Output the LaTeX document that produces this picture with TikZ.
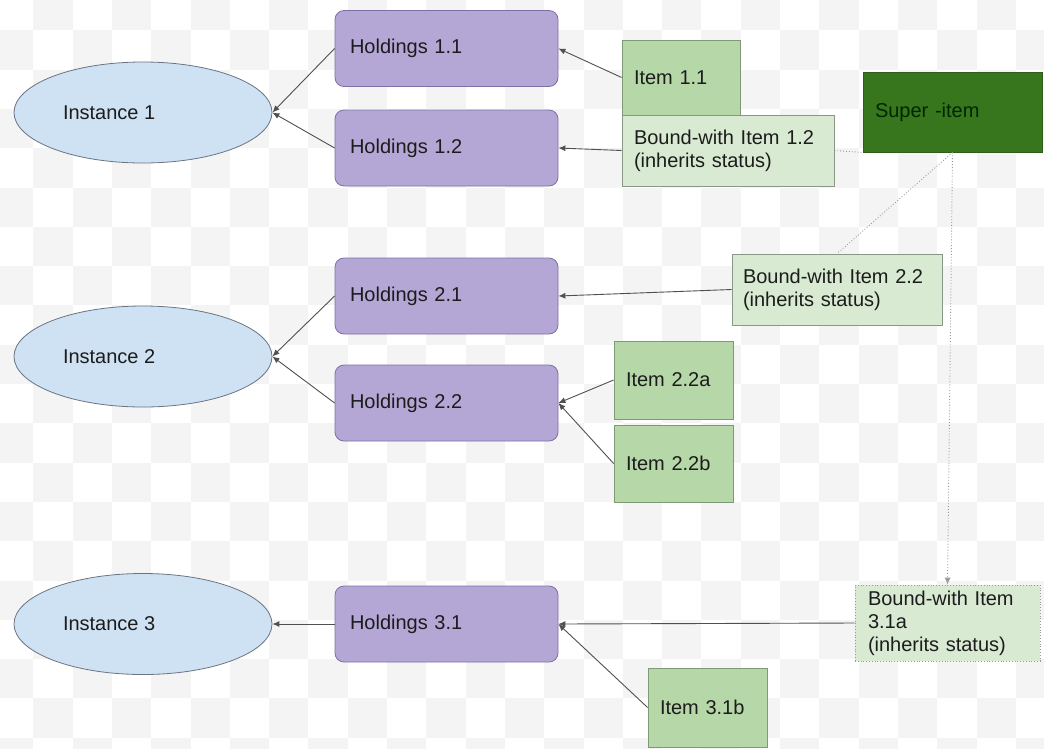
\documentclass[tikz,border=0pt]{standalone}
\usepackage{fontspec}
\setmainfont{Liberation Sans}
\usetikzlibrary{shapes.geometric,arrows.meta}
\definecolor{instfill}{HTML}{CFE2F3}
\definecolor{instdraw}{HTML}{6A7583}
\definecolor{holdfill}{HTML}{B4A7D6}
\definecolor{holddraw}{HTML}{7E6FA6}
\definecolor{itemfill}{HTML}{B6D7A8}
\definecolor{itemdraw}{HTML}{7F9977}
\definecolor{bwfill}{HTML}{D9EAD3}
\definecolor{bwdraw}{HTML}{8A9686}
\definecolor{superfill}{HTML}{38761D}
\definecolor{superdraw}{HTML}{2D5F18}
\definecolor{txt}{HTML}{1C1C1C}
\definecolor{linec}{HTML}{505050}
\definecolor{dotc}{HTML}{9A9A9A}
\definecolor{checker}{HTML}{F4F4F4}
\tikzset{
  every node/.style={font=\fontsize{20}{23}\selectfont, text=txt},
  inst/.style={ellipse, draw=instdraw, fill=instfill, line width=0.8pt,
    minimum width=258pt, minimum height=101pt, inner sep=0pt},
  hold/.style={rectangle, rounded corners=9pt, draw=holddraw, fill=holdfill, line width=0.8pt,
    text width=193pt, inner xsep=15pt, inner ysep=0pt, minimum height=76pt, align=left},
  itembox/.style={rectangle, draw=itemdraw, fill=itemfill, line width=0.8pt,
    inner xsep=12pt, inner ysep=0pt, align=left},
  bwbox/.style={rectangle, draw=bwdraw, fill=bwfill, line width=0.8pt,
    inner xsep=12pt, inner ysep=0pt, align=left},
  superbox/.style={rectangle, draw=superdraw, fill=superfill, line width=0.8pt,
    inner xsep=12pt, inner ysep=0pt, align=left, text=black!85!green},
  arr/.style={draw=linec, line width=0.9pt, -{Latex[length=7pt,width=6pt]}},
  dotline/.style={draw=dotc, line width=0.9pt, dotted},
}
\begin{document}
\begin{tikzpicture}[x=1pt,y=-1pt]
\useasboundingbox (0,0) rectangle (1044,748);
% transparency checkerboard background
\begin{scope}
\clip (0,0) rectangle (1044,748);
\fill[white] (0,0) rectangle (1044,748);
\foreach \i in {0,...,27}{
  \foreach \j in {0,...,20}{
    \pgfmathtruncatemacro\myparity{mod(\i+\j,2)}
    \ifnum\myparity=1
      \fill[checker] ({-6+39.3*\i},{-9+39.3*\j}) rectangle ++(39.3,39.3);
    \fi
  }
}
\end{scope}

% instances
\node[inst] (i1) at (143,112.5) {\makebox[160pt][l]{Instance 1}};
\node[inst] (i2) at (143,356.5) {\makebox[160pt][l]{Instance 2}};
\node[inst] (i3) at (143,624) {\makebox[160pt][l]{Instance 3}};

% holdings
\node[hold] (h11) at (446.5,48.5) {Holdings 1.1};
\node[hold] (h12) at (446.5,148) {Holdings 1.2};
\node[hold] (h21) at (446.5,296) {Holdings 2.1};
\node[hold] (h22) at (446.5,403) {Holdings 2.2};
\node[hold] (h31) at (446.5,624) {Holdings 3.1};

% items
\node[itembox, text width=94pt, minimum height=75pt] (it11) at (681,77.5) {Item 1.1};
\node[bwbox, text width=188pt, minimum height=71pt] (bw12) at (728,150.5) {Bound-with Item 1.2\\(inherits status)};
\node[superbox, text width=155pt, minimum height=80pt] (super) at (952.5,112) {Super -item};
\node[bwbox, inner xsep=11pt, text width=188pt, minimum height=71pt] (bw22) at (837,289.5) {Bound-with Item 2.2\\(inherits status)};
\node[itembox, text width=95pt, minimum height=78pt] (it22a) at (673.5,380) {Item 2.2a};
\node[itembox, text width=95pt, minimum height=77pt] (it22b) at (673.5,463.5) {Item 2.2b};
\node[bwbox, draw=dotc, dotted, inner xsep=13pt, text width=159pt, minimum height=76pt] (bw31a) at (947.5,623) {Bound-with Item\\3.1a\\(inherits status)};
\node[itembox, text width=95pt, minimum height=79pt] (it31b) at (707.5,707.5) {Item 3.1b};

% holdings -> instances
\draw[arr] (h11.west) -- (i1.east);
\draw[arr] (h12.west) -- (i1.east);
\draw[arr] (h21.west) -- (i2.east);
\draw[arr] (h22.west) -- (i2.east);
\draw[arr] (h31.west) -- (i3.east);

% items -> holdings
\draw[arr] (it11.west) -- (h11.east);
\draw[arr] (bw12.west) -- (h12.east);
\draw[arr] (bw22.west) -- (h21.east);
\draw[arr] (it22a.west) -- (h22.east);
\draw[arr] (it22b.west) -- (h22.east);
\draw[arr] (bw31a.west) -- (h31.east);
\draw[arr] (it31b.west) -- (h31.east);

% super-item links
\draw[dotline] (bw12.east) -- (super.south west);
\draw[dotline] (super.south) -- (bw22.north);
\draw[dotline, -{Latex[length=7pt,width=6pt]}] (super.south) -- (bw31a.north);
\end{tikzpicture}
\end{document}
